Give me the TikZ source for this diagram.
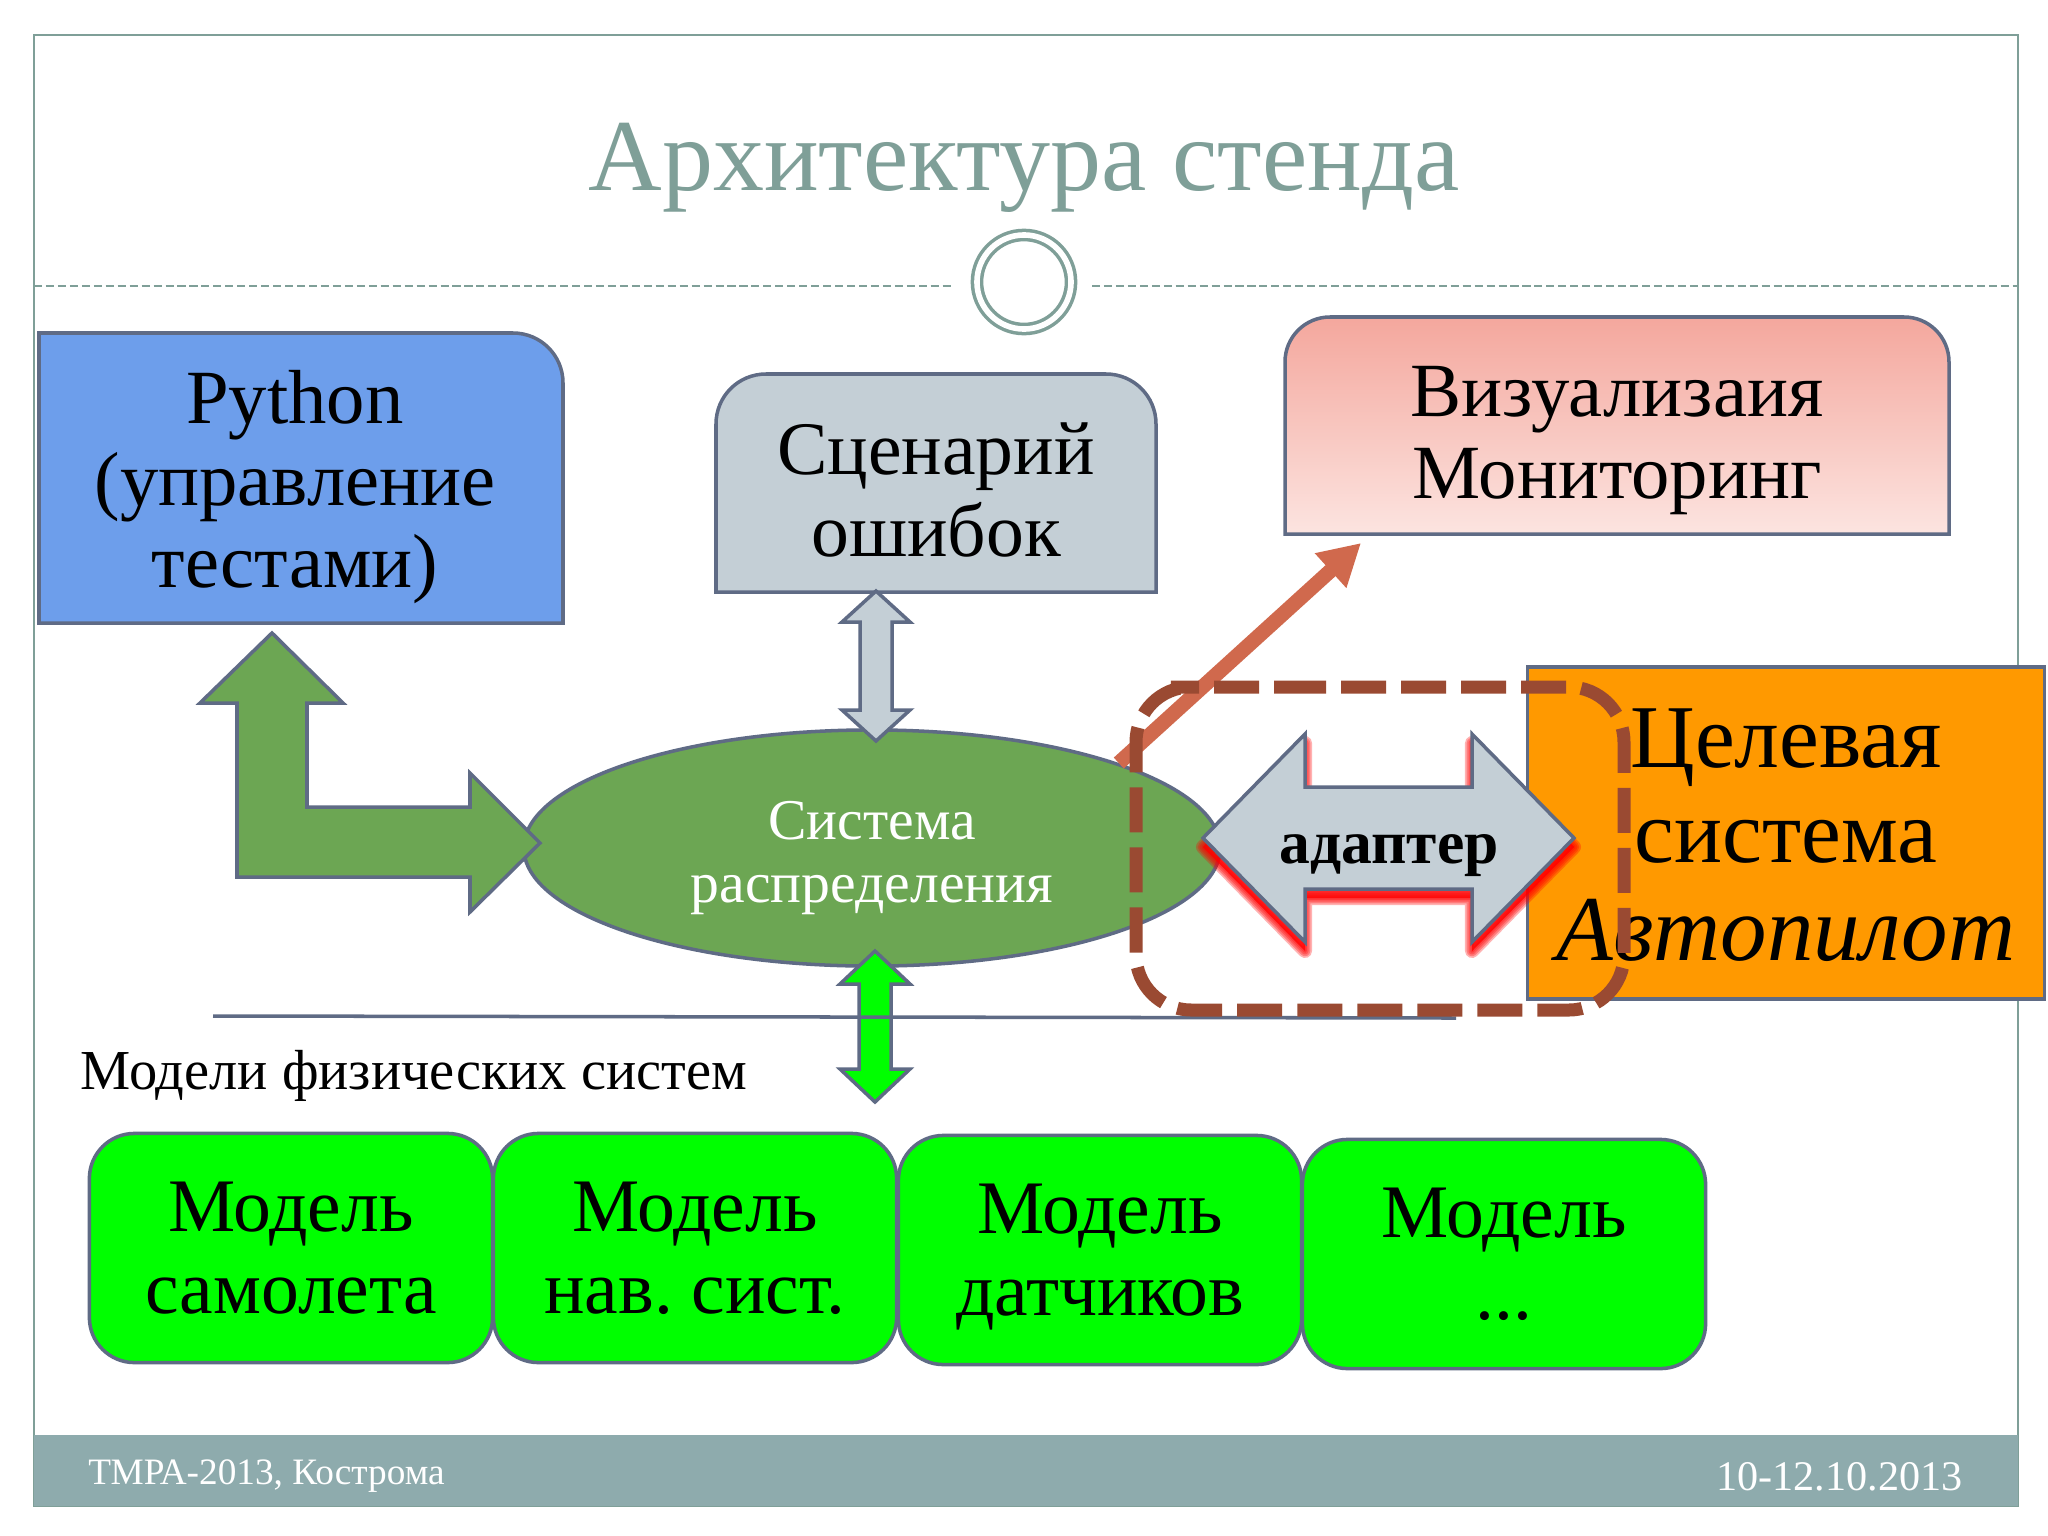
\documentclass[tikz,border=0pt]{standalone}
\usepackage{fontspec}
\setmainfont{Liberation Serif}
\usepackage{xcolor}
\usetikzlibrary{positioning, arrows.meta, shapes.geometric}
\definecolor{slidegray}{HTML}{7F9F98}
\definecolor{footerbar}{HTML}{8EABAD}
\definecolor{edgeblue}{HTML}{5F6B85}
\definecolor{paleblue}{HTML}{C4CFD6}
\definecolor{leafgreen}{HTML}{6CA653}
\definecolor{dashbrown}{HTML}{9A4A32}
\definecolor{skyblue}{HTML}{6D9EEB}
\definecolor{rosetop}{HTML}{F4A79D}
\definecolor{rosebot}{HTML}{FCE4E0}
\definecolor{rust}{HTML}{D0694D}
\definecolor{targetorange}{HTML}{FF9900}
\newcommand{\adapterpath}{(1203,838) -- (1305,734) -- (1305,787) -- (1472,787) -- (1472,734) -- (1574,838) -- (1472,942) -- (1472,889) -- (1305,889) -- (1305,942) -- cycle}
\tikzset{
  boxedge/.style={draw=edgeblue, line width=1pt},
  bigtext/.style={align=center, font=\fontsize{#1}{23.3}\selectfont},
  bigtext/.default=21.5,
  modelbox/.style={boxedge, fill=green, rounded corners=0.45cm, minimum width=4.03cm, minimum height=2.29cm, bigtext, execute at begin node=\frenchspacing\rule{0pt}{16pt}},
  footertext/.style={text=white, font=\fontsize{#1}{#1}\selectfont},
  ruleline/.style={slidegray, line width=0.75pt, dash pattern=on 2.3pt off 1.1pt},
}
\begin{document}
\begin{tikzpicture}[x=0.01cm, y=-0.01cm]
  \useasboundingbox (0,0) rectangle (2048,1536);
  % slide frame
  \fill[white] (0,0) rectangle (2048,1536);
  \draw[slidegray, line width=0.7pt] (34,35) rectangle (2018,1506);
  \fill[footerbar] (34,1435) rectangle (2018,1506);
  \node[footertext=10.6, anchor=west] (place) at (76,1476) {ТМРА-2013, Кострома};
  \node[footertext=12, anchor=east] (dates) at (1975,1477) {10-12.10.2013};

  \node[text=slidegray, font=\fontsize{29}{29}\selectfont] (title) at (1024,168) {Архитектура стенда};
  \coordinate (ruleleft) at (34,286);
  \coordinate (ruleright) at (2018,286);
  \node[circle, draw=slidegray, line width=1pt, minimum size=0.94cm, inner sep=0pt, double=white, double distance=1.6pt] (ring) at (1024,282) {};
  \draw[ruleline] (ruleleft) -- (953,286);
  \draw[ruleline] (1092,286) -- (ruleright);

  % top row boxes
  \draw[boxedge, fill=skyblue] (39,623) -- (39,333) -- (513,333) to[out=0, in=90] (563,383) -- (563,623) -- cycle;
  \node[bigtext=21.8] (python) at (295,487) {Python\\(управление\\тестами)};
  \draw[boxedge, fill=paleblue] (716,592) -- (716,424) to[out=90, in=180] (766,374) -- (1106,374) to[out=0, in=90] (1156,424) -- (1156,592) -- cycle;
  \node[bigtext] (faults) at (936,490) {Сценарий\\ошибок};
  \draw[boxedge, top color=rosetop, bottom color=rosebot] (1285,534) -- (1285,362) to[out=90, in=180] (1330,317) -- (1904,317) to[out=0, in=90] (1949,362) -- (1949,534) -- cycle;
  \node[bigtext=21.8] (monitor) at (1617,441) {Визуализаия\\Мониторинг};

  % ellipse and what hangs on it
  \node[ellipse, boxedge, fill=leafgreen, minimum width=6.96cm, minimum height=2.36cm, text=white, align=center, font=\fontsize{16.4}{17.9}\selectfont] (distr) at (872,848) {\rule{0pt}{16.5pt}Система\\распределения};
  \coordinate (montip) at (1361,543);
  \draw[-{Triangle[length=11.7pt, width=12.5pt]}, line width=4.2pt, rust] (distr.19) -- (montip);

  \draw[boxedge, fill=leafgreen] (272,633) -- (343,703) -- (307,703) -- (307,807) -- (470,807) -- (470,773) -- (540,843) -- (470,912) -- (470,877) -- (237,877) -- (237,703) -- (200,703) -- cycle;
  \draw[boxedge, fill=paleblue] (876,591) -- (910,622) -- (892,622) -- (892,710) -- (910,710) -- (876,741) -- (842,710) -- (860,710) -- (860,622) -- (842,622) -- cycle;
  \draw[boxedge, fill=green] (875,951) -- (910,984) -- (891,984) -- (891,1069) -- (910,1069) -- (875,1102) -- (840,1069) -- (859,1069) -- (859,984) -- (840,984) -- cycle;
  \draw[edgeblue, line width=1pt] (213,1016) -- (1456,1018);

  % target system and adapter
  \node[boxedge, fill=targetorange, minimum width=5.17cm, minimum height=3.32cm, inner sep=0pt] (target) at (1786,833) {};
  \node[align=center, font=\fontsize{25.5}{27}\selectfont] (targettext) at (1786,835) {Целевая\\система\\[0.8pt]{\fontsize{26.4}{27}\selectfont\itshape Автопилот}};
  \foreach \w in {1,2,3,4}
    \fill[red, opacity=0.3, draw=red, line width=\w pt, line join=round, yshift=-0.09cm] \adapterpath;
  \draw[boxedge, fill=paleblue] \adapterpath;
  \node[font=\bfseries\fontsize{17.5}{18}\selectfont] (adapter) at (1389,856) {адаптер};
  \draw[dashbrown, line width=3.7pt, dash pattern=on 12.8pt off 4.27pt, rounded corners=0.55cm] (1226,687) -- (1624,687) -- (1624,1010) -- (1136,1010) -- (1136,687) -- cycle;

  % models
  \node[font=\fontsize{16.05}{17}\selectfont, anchor=west] (modelhead) at (68,1076) {Модели физических систем};
  \node[modelbox] (plane) at (291,1248) {Модель\\самолета};
  \node[modelbox] (nav) at (695,1248) {Модель\\нав. сист.};
  \node[modelbox] (sensors) at (1100,1250) {Модель\\\smash{датчиков}};
  \node[modelbox] (other) at (1504,1254) {Модель\\...};
\end{tikzpicture}
\end{document}
